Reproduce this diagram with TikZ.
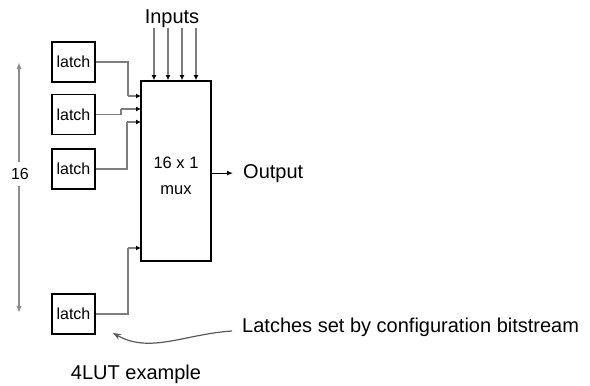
\documentclass[tikz,border=0pt]{standalone}
\usepackage{fontspec}
\setmainfont{Liberation Sans}
\usetikzlibrary{arrows.meta,calc}
\definecolor{wiregray}{RGB}{125,125,125}
\definecolor{dimgray}{RGB}{140,140,140}
\definecolor{curvegray}{RGB}{90,90,90}
\tikzset{
  latchbox/.style={draw=black,line width=1.3pt,minimum width=43pt,minimum height=40pt,inner sep=0pt,font=\fontsize{16}{19}\selectfont},
  muxbox/.style={draw=black,line width=1.8pt,minimum width=70pt,minimum height=180pt,inner sep=0pt},
  wire/.style={draw=wiregray,line width=1.1pt,-{Latex[length=5pt,width=5pt,color=black]}},
  plainwire/.style={draw=wiregray,line width=1.1pt},
  dimarrow/.style={draw=dimgray,line width=1.3pt,-{Latex[length=7pt,width=5pt]}},
  outarrow/.style={draw=black,line width=1.1pt,-{Latex[length=6pt,width=5pt]}},
  bigtext/.style={inner sep=0pt,font=\fontsize{20}{24}\selectfont},
}
\begin{document}
\begin{tikzpicture}[x=1pt,y=-1pt]
\useasboundingbox (0,0) rectangle (590,386);
% latches
\node[latchbox] (l1) at (73.5,62) {latch};
\node[latchbox] (l2) at (73.5,114.5) {latch};
\node[latchbox] (l3) at (73.5,169) {latch};
\node[latchbox] (l4) at (73.5,314) {latch};
% mux
\node[muxbox] (mux) at (176,171) {};
\node[anchor=base,align=center,inner sep=0pt,font=\fontsize{16.5}{26}\selectfont] (muxtext) at (176,194.5) {16 x 1\\mux};
% inputs
\node[bigtext,anchor=base] (inputs) at (172,23) {Inputs};
\foreach \i/\x in {1/154,2/168,3/182,4/196}{
  \coordinate (t\i) at (\x,28);
  \draw[wire] (t\i) -- (t\i |- mux.north);
}
% mux entry points
\coordinate (in1) at (141,96);
\coordinate (in2) at (141,109);
\coordinate (in3) at (141,122);
\coordinate (in4) at (141,248);
\coordinate (j1) at (128,96);
\coordinate (j2) at (121,109);
\coordinate (j3) at (127,122);
\coordinate (j4) at (128,248);
\draw[plainwire] (l1.east) -| (j1);
\draw[wire] (j1) -- (in1);
\draw[plainwire] (l2.east) -| (j2);
\draw[wire] (j2) -- (in2);
\draw[plainwire] (l3.east) -| (j3);
\draw[wire] (j3) -- (in3);
\draw[plainwire] (l4.east) -| (j4);
\draw[wire] (j4) -- (in4);
% output
\node[bigtext,anchor=base west] (out) at (243,178) {Output};
\draw[outarrow] (mux.east |- out.west) -- ($(out.west)+(-10,0)$);
% 16 dimension
\node[inner xsep=0pt,inner ysep=6.5pt,font=\fontsize{16}{19}\selectfont] (n16) at (20,174) {16};
\coordinate (dtop) at (19,62);
\coordinate (dbot) at (19,313);
\draw[dimarrow] (n16.north -| dtop) -- (dtop);
\draw[dimarrow] (n16.south -| dbot) -- (dbot);
% annotation
\node[bigtext,anchor=base west] (note) at (242,332) {Latches set by configuration bitstream};
\coordinate (cstart) at (232,331);
\coordinate (cend) at (113,333);
\draw[draw=curvegray,line width=1.2pt,-{Stealth[length=8pt,width=6pt]}] (cstart) .. controls (185,334) and (150,354) .. (cend);
% caption
\node[bigtext,anchor=base] (caption) at (136,379) {4LUT example};
\end{tikzpicture}
\end{document}
